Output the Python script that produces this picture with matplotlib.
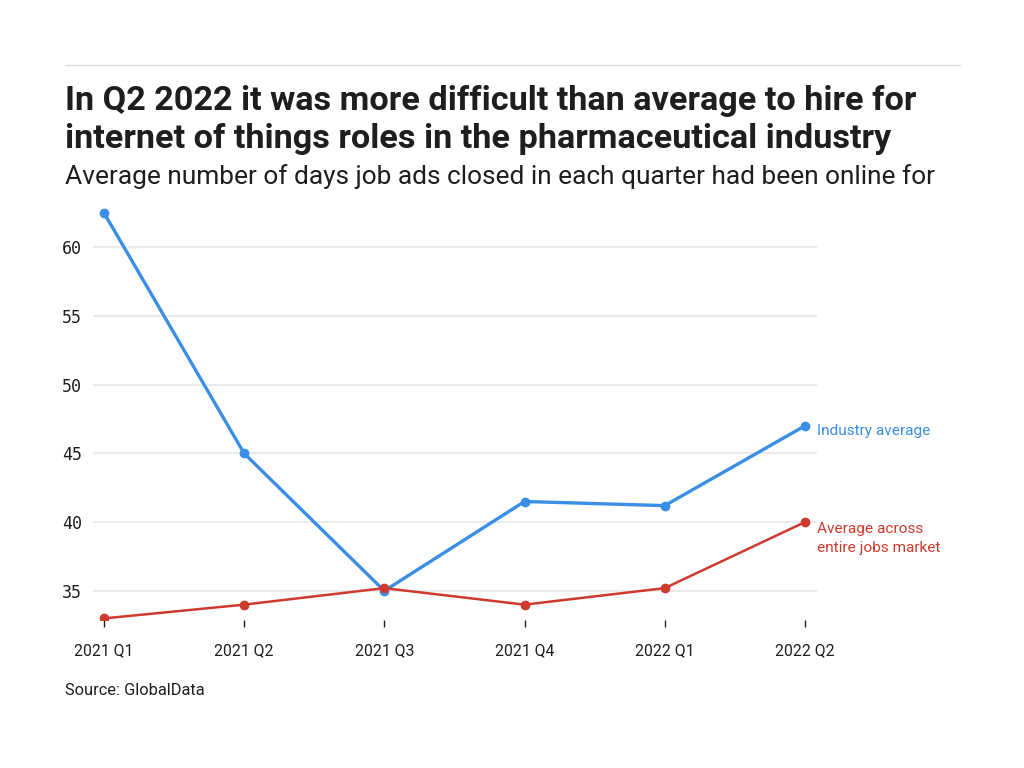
import matplotlib
matplotlib.use("Agg")
import matplotlib.pyplot as plt
import numpy as np

quarters = ["2021 Q1", "2021 Q2", "2021 Q3", "2021 Q4", "2022 Q1", "2022 Q2"]
industry = [62.5, 45.0, 35.0, 41.5, 41.2, 47.0]
market = [33.0, 34.0, 35.2, 34.0, 35.2, 40.0]

blue = "#3a8ee6"
red = "#cf3a2e"
dark = "#1e1e1e"

plt.rcParams["font.family"] = ["Roboto", "DejaVu Sans"]

fig = plt.figure(figsize=(10.24, 7.68), dpi=100)
ax = fig.add_axes([0.0908, 0.193, 0.707, 0.539])

x = np.arange(len(quarters))
ax.plot(x, industry, color=blue, lw=2.4, marker="o", ms=6, zorder=3)
ax.plot(x, market, color=red, lw=1.8, marker="o", ms=6, zorder=4)

ax.set_xlim(-0.078, 5.086)
ax.set_ylim(32.9, 63.0)
ax.set_yticks([35, 40, 45, 50, 55, 60])
ax.set_xticks(x, quarters)
ax.grid(axis="y", color="#e6e6e6", lw=1.2)
ax.set_axisbelow(True)
for s in ax.spines.values():
    s.set_visible(False)
ax.tick_params(axis="y", length=0, pad=8, labelsize=12, labelcolor=dark)
ax.tick_params(axis="x", length=5, width=1, color=dark, pad=12, labelsize=11.3, labelcolor=dark)
for lbl in ax.get_yticklabels():
    lbl.set_family("DejaVu Sans Mono")

# series labels at the right end of each line
ax.text(5.086, industry[-1] - 0.4, "Industry average", color=blue, fontsize=11.1,
        va="center", ha="left")
ax.text(5.086, market[-1] - 1.2, "Average across\nentire jobs market", color=red,
        fontsize=11.1, va="center", ha="left", linespacing=1.5)

fig.add_artist(plt.Line2D([0.0635, 0.9375], [0.9155, 0.9155], color="#dddddd", lw=1))
fig.text(0.0635, 0.889, "In Q2 2022 it was more difficult than average to hire for\n"
         "internet of things roles in the pharmaceutical industry",
         fontsize=24.7, fontweight="bold", color=dark, va="top", linespacing=1.25)
fig.text(0.0635, 0.77, "Average number of days job ads closed in each quarter had been online for",
         fontsize=18.9, color=dark, va="center")
fig.text(0.0635, 0.101, "Source: GlobalData", fontsize=11.8, color=dark, va="center")

fig.savefig("out.png", dpi=100, facecolor="white")
